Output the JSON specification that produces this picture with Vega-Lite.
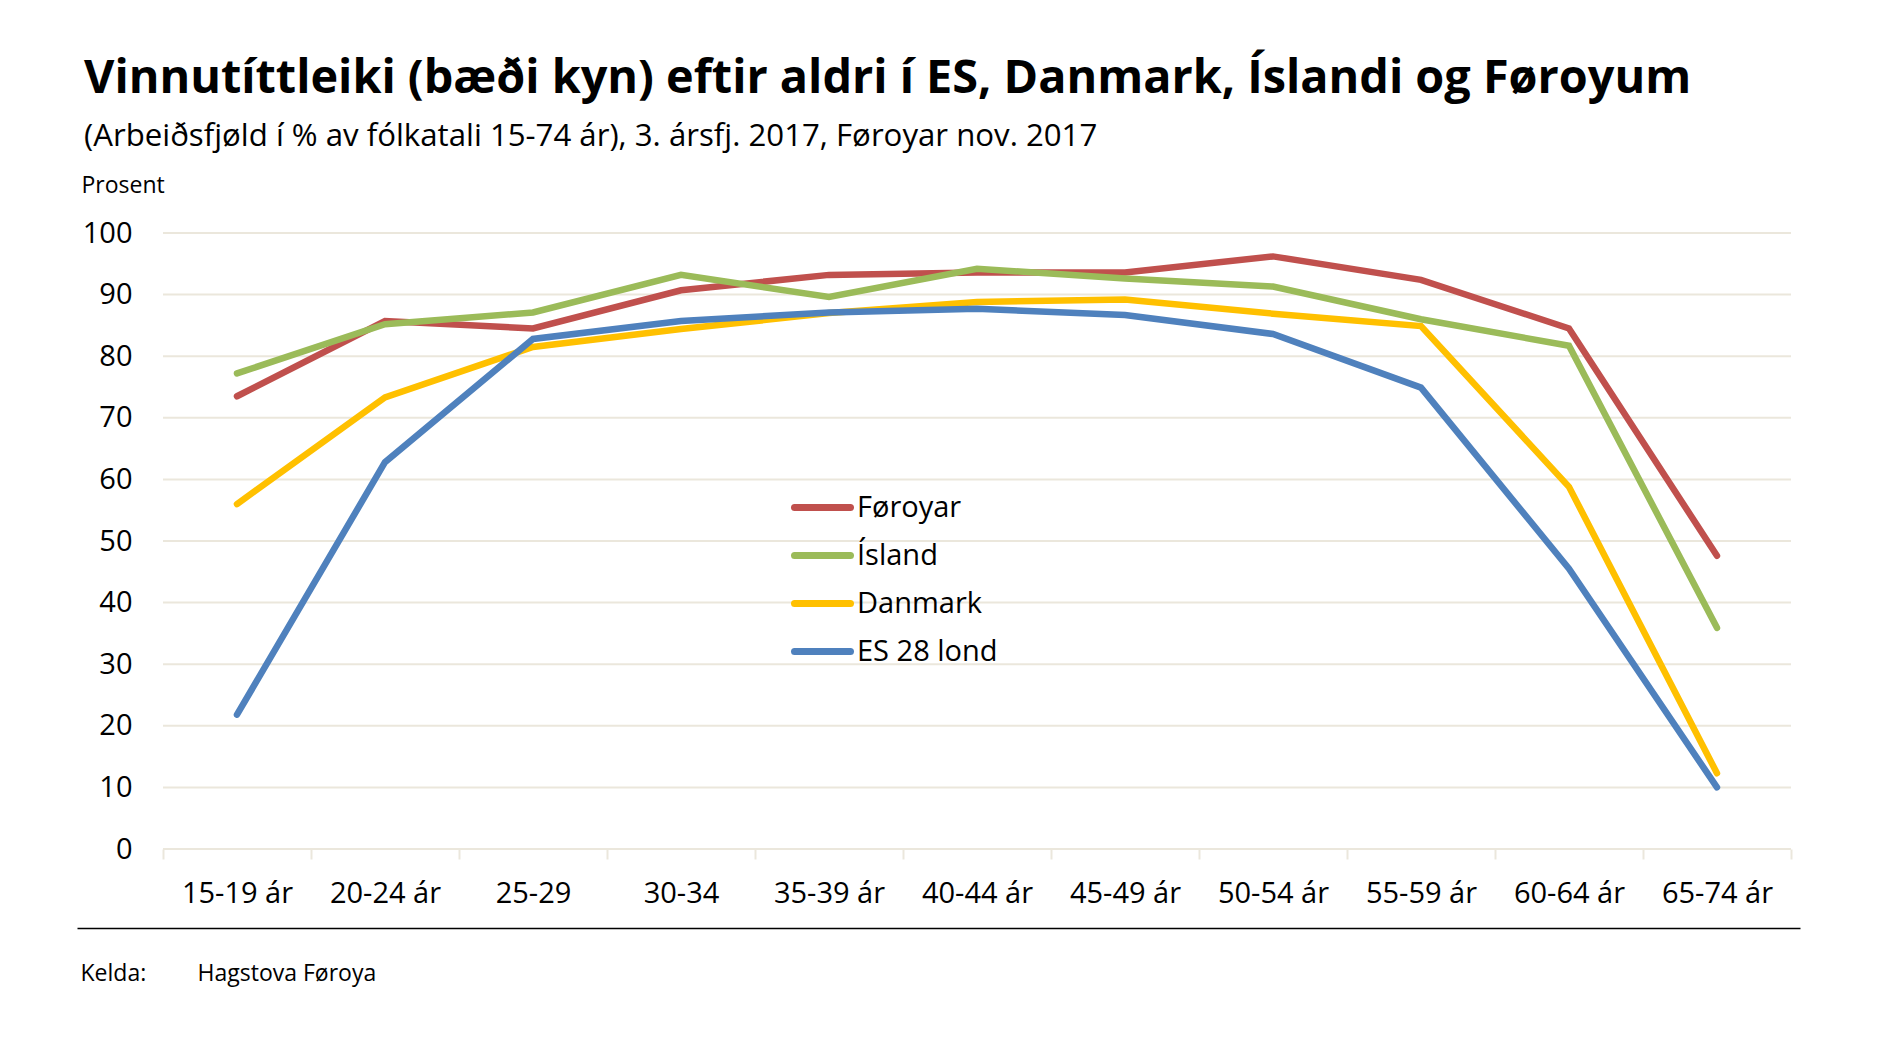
{
  "$schema": "https://vega.github.io/schema/vega-lite/v6.json",
  "width": 1723,
  "height": 616,
  "autosize": {"type": "none"},
  "padding": {"left": 77, "top": 233, "right": 77, "bottom": 193},
  "background": "white",
  "config": {"view": {"stroke": null}, "font": "Open Sans"},
  "title": {
    "text": "Vinnutíttleiki (bæði kyn) eftir aldri í ES, Danmark, Íslandi og Føroyum",
    "subtitle": "(Arbeiðsfjøld í % av fólkatali 15-74 ár), 3. ársfj. 2017, Føroyar nov. 2017",
    "anchor": "start",
    "frame": "group",
    "dx": 7,
    "offset": 22,
    "font": "Open Sans",
    "fontSize": 46.8,
    "fontWeight": "bold",
    "color": "#000000",
    "subtitleFont": "Open Sans",
    "subtitleFontSize": 31.2,
    "subtitleColor": "#000000",
    "subtitlePadding": 18
  },
  "datasets": {
    "rates": [
      {"age": "15-19 ár", "land": "Føroyar", "value": 73.5},
      {"age": "20-24 ár", "land": "Føroyar", "value": 85.7},
      {"age": "25-29", "land": "Føroyar", "value": 84.5},
      {"age": "30-34", "land": "Føroyar", "value": 90.7},
      {"age": "35-39 ár", "land": "Føroyar", "value": 93.2},
      {"age": "40-44 ár", "land": "Føroyar", "value": 93.6},
      {"age": "45-49 ár", "land": "Føroyar", "value": 93.6},
      {"age": "50-54 ár", "land": "Føroyar", "value": 96.2},
      {"age": "55-59 ár", "land": "Føroyar", "value": 92.4},
      {"age": "60-64 ár", "land": "Føroyar", "value": 84.5},
      {"age": "65-74 ár", "land": "Føroyar", "value": 47.6},
      {"age": "15-19 ár", "land": "Ísland", "value": 77.2},
      {"age": "20-24 ár", "land": "Ísland", "value": 85.2},
      {"age": "25-29", "land": "Ísland", "value": 87.1},
      {"age": "30-34", "land": "Ísland", "value": 93.2},
      {"age": "35-39 ár", "land": "Ísland", "value": 89.6},
      {"age": "40-44 ár", "land": "Ísland", "value": 94.2},
      {"age": "45-49 ár", "land": "Ísland", "value": 92.6},
      {"age": "50-54 ár", "land": "Ísland", "value": 91.3},
      {"age": "55-59 ár", "land": "Ísland", "value": 86.0},
      {"age": "60-64 ár", "land": "Ísland", "value": 81.7},
      {"age": "65-74 ár", "land": "Ísland", "value": 35.9},
      {"age": "15-19 ár", "land": "Danmark", "value": 56.0},
      {"age": "20-24 ár", "land": "Danmark", "value": 73.3},
      {"age": "25-29", "land": "Danmark", "value": 81.5},
      {"age": "30-34", "land": "Danmark", "value": 84.4},
      {"age": "35-39 ár", "land": "Danmark", "value": 87.0},
      {"age": "40-44 ár", "land": "Danmark", "value": 88.8},
      {"age": "45-49 ár", "land": "Danmark", "value": 89.2},
      {"age": "50-54 ár", "land": "Danmark", "value": 86.9},
      {"age": "55-59 ár", "land": "Danmark", "value": 84.9},
      {"age": "60-64 ár", "land": "Danmark", "value": 58.8},
      {"age": "65-74 ár", "land": "Danmark", "value": 12.3},
      {"age": "15-19 ár", "land": "ES 28 lond", "value": 21.8},
      {"age": "20-24 ár", "land": "ES 28 lond", "value": 62.8},
      {"age": "25-29", "land": "ES 28 lond", "value": 82.8},
      {"age": "30-34", "land": "ES 28 lond", "value": 85.7},
      {"age": "35-39 ár", "land": "ES 28 lond", "value": 87.1},
      {"age": "40-44 ár", "land": "ES 28 lond", "value": 87.7},
      {"age": "45-49 ár", "land": "ES 28 lond", "value": 86.7},
      {"age": "50-54 ár", "land": "ES 28 lond", "value": 83.6},
      {"age": "55-59 ár", "land": "ES 28 lond", "value": 74.9},
      {"age": "60-64 ár", "land": "ES 28 lond", "value": 45.5},
      {"age": "65-74 ár", "land": "ES 28 lond", "value": 10.0}
    ],
    "grid": [
      {"g": 0, "xs": "15-19 ár", "xe": "65-74 ár"},
      {"g": 10, "xs": "15-19 ár", "xe": "65-74 ár"},
      {"g": 20, "xs": "15-19 ár", "xe": "65-74 ár"},
      {"g": 30, "xs": "15-19 ár", "xe": "65-74 ár"},
      {"g": 40, "xs": "15-19 ár", "xe": "65-74 ár"},
      {"g": 50, "xs": "15-19 ár", "xe": "65-74 ár"},
      {"g": 60, "xs": "15-19 ár", "xe": "65-74 ár"},
      {"g": 70, "xs": "15-19 ár", "xe": "65-74 ár"},
      {"g": 80, "xs": "15-19 ár", "xe": "65-74 ár"},
      {"g": 90, "xs": "15-19 ár", "xe": "65-74 ár"},
      {"g": 100, "xs": "15-19 ár", "xe": "65-74 ár"}
    ]
  },
  "layer": [
    {
      "data": {"name": "grid"},
      "mark": {"type": "rule", "color": "#ebe7dc", "strokeWidth": 2},
      "encoding": {
        "x": {
          "field": "xs",
          "type": "nominal",
          "bandPosition": 0,
          "scale": {
            "type": "band",
            "domain": ["15-19 ár", "20-24 ár", "25-29", "30-34", "35-39 ár", "40-44 ár", "45-49 ár", "50-54 ár", "55-59 ár", "60-64 ár", "65-74 ár"],
            "paddingInner": 0,
            "paddingOuter": 0.321,
            "align": 0.905
          },
          "axis": {
            "orient": "bottom",
            "offset": 79,
            "domain": true,
            "domainColor": "#000000",
            "domainWidth": 1.5,
            "labels": false,
            "ticks": false,
            "grid": false,
            "title": "Hagstova Føroya",
            "titleX": 120,
            "titleY": 52,
            "titleAlign": "left",
            "titleBaseline": "alphabetic",
            "titleFont": "Open Sans",
            "titleFontSize": 23,
            "titleFontWeight": "normal",
            "titleColor": "#000000"
          }
        },
        "x2": {"field": "xe", "bandPosition": 1},
        "y": {
          "field": "g",
          "type": "quantitative",
          "scale": {"domain": [0, 100], "nice": false, "zero": true},
          "axis": {
            "values": [0, 10, 20, 30, 40, 50, 60, 70, 80, 90, 100],
            "grid": false,
            "domain": false,
            "ticks": false,
            "labelPadding": -55,
            "labelFont": "Open Sans",
            "labelFontSize": 29,
            "labelColor": "#000000",
            "title": "Prosent",
            "titleAngle": 0,
            "titleX": 4,
            "titleY": -41,
            "titleAlign": "left",
            "titleBaseline": "alphabetic",
            "titleFont": "Open Sans",
            "titleFontSize": 23,
            "titleFontWeight": "normal",
            "titleColor": "#000000"
          }
        }
      }
    },
    {
      "data": {"name": "rates"},
      "mark": {"type": "line", "strokeWidth": 6.5, "strokeCap": "round", "strokeJoin": "miter"},
      "encoding": {
        "x": {
          "field": "age",
          "type": "nominal",
          "scale": {
            "type": "band",
            "domain": ["15-19 ár", "20-24 ár", "25-29", "30-34", "35-39 ár", "40-44 ár", "45-49 ár", "50-54 ár", "55-59 ár", "60-64 ár", "65-74 ár"],
            "paddingInner": 0,
            "paddingOuter": 0.321,
            "align": 0.905
          },
          "axis": {
            "orient": "bottom",
            "domain": false,
            "grid": false,
            "ticks": true,
            "tickBand": "extent",
            "tickColor": "#ebe7dc",
            "tickWidth": 2,
            "tickSize": 10,
            "labelAngle": 0,
            "labelPadding": 20,
            "labelFont": "Open Sans",
            "labelFontSize": 29,
            "labelColor": "#000000",
            "title": "Kelda:",
            "titleX": 3,
            "titleY": 131,
            "titleAlign": "left",
            "titleBaseline": "alphabetic",
            "titleFont": "Open Sans",
            "titleFontSize": 23,
            "titleFontWeight": "normal",
            "titleColor": "#000000"
          }
        },
        "y": {
          "field": "value",
          "type": "quantitative",
          "scale": {"domain": [0, 100], "nice": false, "zero": true}
        },
        "color": {
          "field": "land",
          "type": "nominal",
          "scale": {
            "domain": ["Føroyar", "Ísland", "Danmark", "ES 28 lond"],
            "range": ["#c0504d", "#9bbb59", "#ffc000", "#4f81bd"]
          },
          "legend": {
            "orient": "none",
            "legendX": 731,
            "legendY": 260,
            "title": null,
            "padding": 0,
            "symbolType": "M-3,0H3",
            "symbolSize": 348,
            "symbolStrokeWidth": 7,
            "rowPadding": 18,
            "labelOffset": 20,
            "labelFont": "Open Sans",
            "labelFontSize": 29,
            "labelColor": "#000000",
            "labelLimit": 400,
            "encode": {"symbols": {"update": {"strokeCap": {"value": "round"}}}}
          }
        }
      }
    }
  ],
  "resolve": {"axis": {"x": "independent"}}
}
